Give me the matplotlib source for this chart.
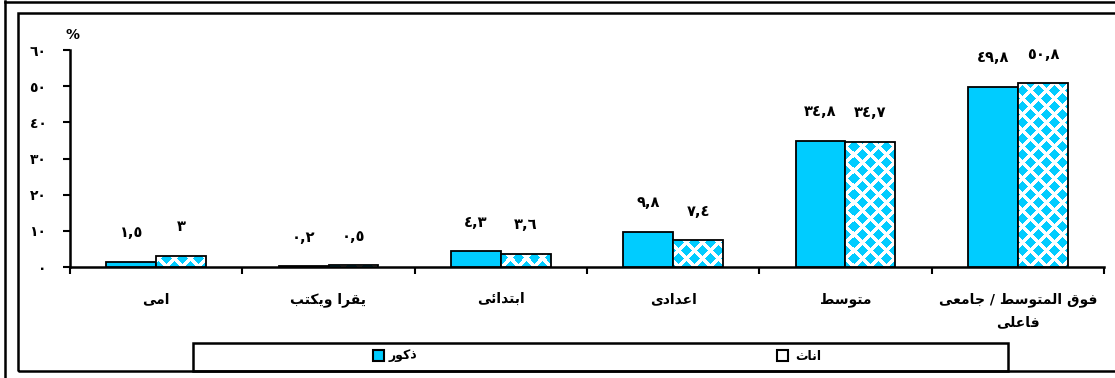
import matplotlib
matplotlib.use('Agg')
import matplotlib.pyplot as plt
from matplotlib.patches import Rectangle
from matplotlib.lines import Line2D
import numpy as np

# data
categories = ['امى', 'يقرا ويكتب', 'ابتدائى', 'اعدادى', 'متوسط', 'فوق المتوسط / جامعى\nفاعلى']
males = [1.5, 0.2, 4.3, 9.8, 34.8, 49.8]
females = [3.0, 0.5, 3.6, 7.4, 34.7, 50.8]
yticks = [0, 10, 20, 30, 40, 50, 60]
series_names = ['ذكور', 'اناث']

BLUE = '#00CCFF'
W, H = 1115, 378

# presentation forms (isolated, final, initial, medial) for the letters used
FORMS = {
    'ا': (0xFE8D, 0xFE8E, None, None),
    'ب': (0xFE8F, 0xFE90, 0xFE91, 0xFE92),
    'ت': (0xFE95, 0xFE96, 0xFE97, 0xFE98),
    'ث': (0xFE99, 0xFE9A, 0xFE9B, 0xFE9C),
    'ج': (0xFE9D, 0xFE9E, 0xFE9F, 0xFEA0),
    'د': (0xFEA9, 0xFEAA, None, None),
    'ذ': (0xFEAB, 0xFEAC, None, None),
    'ر': (0xFEAD, 0xFEAE, None, None),
    'س': (0xFEB1, 0xFEB2, 0xFEB3, 0xFEB4),
    'ط': (0xFEC1, 0xFEC2, 0xFEC3, 0xFEC4),
    'ع': (0xFEC9, 0xFECA, 0xFECB, 0xFECC),
    'ف': (0xFED1, 0xFED2, 0xFED3, 0xFED4),
    'ق': (0xFED5, 0xFED6, 0xFED7, 0xFED8),
    'ك': (0xFED9, 0xFEDA, 0xFEDB, 0xFEDC),
    'ل': (0xFEDD, 0xFEDE, 0xFEDF, 0xFEE0),
    'م': (0xFEE1, 0xFEE2, 0xFEE3, 0xFEE4),
    'ن': (0xFEE5, 0xFEE6, 0xFEE7, 0xFEE8),
    'و': (0xFEED, 0xFEEE, None, None),
    'ى': (0xFEEF, 0xFEF0, 0xFBE8, 0xFBE9),
    'ي': (0xFEF1, 0xFEF2, 0xFEF3, 0xFEF4),
    'ئ': (0xFE89, 0xFE8A, 0xFE8B, 0xFE8C),
}


def shape_line(s):
    out = []
    for i, c in enumerate(s):
        if c not in FORMS:
            out.append(c)
            continue
        prev = s[i - 1] if i > 0 else ''
        nxt = s[i + 1] if i + 1 < len(s) else ''
        f = FORMS[c]
        j_prev = prev in FORMS and FORMS[prev][2] is not None
        j_next = nxt in FORMS and f[2] is not None
        if j_prev and j_next:
            code = f[3]
        elif j_prev:
            code = f[1]
        elif j_next:
            code = f[2]
        else:
            code = f[0]
        out.append(chr(code))
    return ''.join(out)[::-1]


def ar(s):
    return '\n'.join(shape_line(line) for line in s.split('\n'))


def ar_num(v):
    txt = ('%g' % v).replace('.', ',')
    return txt.translate(str.maketrans('0123456789', '٠١٢٣٤٥٦٧٨٩'))


def diamond_pattern(w, h, s=16.0, r=0.32):
    # blue diamonds on white, rows offset by half a step
    yy, xx = np.mgrid[0:h, 0:w].astype(float)
    da = np.abs((xx + s / 2) % s - s / 2) + np.abs((yy + s / 2) % s - s / 2)
    db = np.abs(xx % s - s / 2) + np.abs(yy % s - s / 2)
    blue = np.minimum(da, db) < r * s
    img = np.ones((h, w, 3))
    img[blue] = matplotlib.colors.to_rgb(BLUE)
    return img


plt.rcParams['font.family'] = ['DejaVu Sans']

fig = plt.figure(figsize=(W / 100, H / 100), dpi=100)
ax_px = (70, 50, 1104, 267)
ax = fig.add_axes([ax_px[0] / W, 1 - ax_px[3] / H,
                   (ax_px[2] - ax_px[0]) / W, (ax_px[3] - ax_px[1]) / H])

x = np.arange(len(categories))
bw = 0.29
ax.bar(x - bw / 2, males, bw, color=BLUE, edgecolor='black', linewidth=1.3, zorder=3)
fbars = ax.bar(x + bw / 2, females, bw, color='white', edgecolor='black', linewidth=1.3, zorder=4)

pattern = diamond_pattern(ax_px[2] - ax_px[0], ax_px[3] - ax_px[1])
for b in fbars:
    b.set_facecolor('none')
    im = ax.imshow(pattern, extent=[0, 1, 0, 1], transform=ax.transAxes,
                   interpolation='nearest', aspect='auto', zorder=3.5)
    im.set_clip_path(b)

for xi, m, f in zip(x, males, females):
    ax.annotate(ar_num(m), (xi - bw / 2, m), xytext=(0, 21), textcoords='offset points',
                ha='center', va='center', fontsize=10.5, fontweight='bold')
    ax.annotate(ar_num(f), (xi + bw / 2, f), xytext=(0, 21), textcoords='offset points',
                ha='center', va='center', fontsize=10.5, fontweight='bold')

ax.set_xlim(-0.5, len(categories) - 0.5)
ax.set_ylim(0, 60)
ax.set_yticks(yticks)
ax.set_yticklabels([ar_num(t) for t in yticks], fontsize=10, fontweight='bold')
ax.set_xticks(np.arange(len(categories) + 1) - 0.5)
ax.set_xticklabels([])
ax.set_xticks(x, minor=True)
ax.set_xticklabels([ar(c) for c in categories], minor=True, fontsize=10,
                   fontweight='bold', linespacing=1.8)
ax.tick_params(axis='x', which='minor', length=0, pad=18)
ax.tick_params(axis='x', which='major', direction='out', length=5, width=1.5)
ax.tick_params(axis='y', direction='out', length=5, width=1.5, pad=12)
for sp in ['top', 'right']:
    ax.spines[sp].set_visible(False)
for sp in ['left', 'bottom']:
    ax.spines[sp].set_linewidth(1.8)

fig.text(72 / W, 1 - 35 / H, '%', ha='center', va='center', fontsize=10, fontweight='bold')


def fx(px):
    return px / W


def fy(py):
    return 1 - py / H


# frames
fig.add_artist(Line2D([fx(5), fx(5)], [fy(1), fy(378)], color='black', lw=1.8))
fig.add_artist(Line2D([fx(5), fx(1115)], [fy(2), fy(2)], color='black', lw=1.8))
fig.add_artist(Rectangle((fx(18), fy(371)), fx(1120) - fx(18), fy(13) - fy(371),
                         fill=False, edgecolor='black', lw=1.8))

# legend box
fig.add_artist(Rectangle((fx(193), fy(371)), fx(1008) - fx(193), fy(343) - fy(371),
                         fill=False, edgecolor='black', lw=1.8))
fig.add_artist(Rectangle((fx(373), fy(361)), fx(11), fy(0) - fy(11),
                         facecolor=BLUE, edgecolor='black', lw=1.5))
fig.text(fx(389), fy(356), ar(series_names[0]), ha='left', va='center',
         fontsize=9, fontweight='bold')
fig.add_artist(Rectangle((fx(777), fy(361)), fx(11), fy(0) - fy(11),
                         facecolor='white', edgecolor='black', lw=1.5))
fig.text(fx(795), fy(356), ar(series_names[1]), ha='left', va='center',
         fontsize=9, fontweight='bold')

fig.savefig('out.png', dpi=100)
